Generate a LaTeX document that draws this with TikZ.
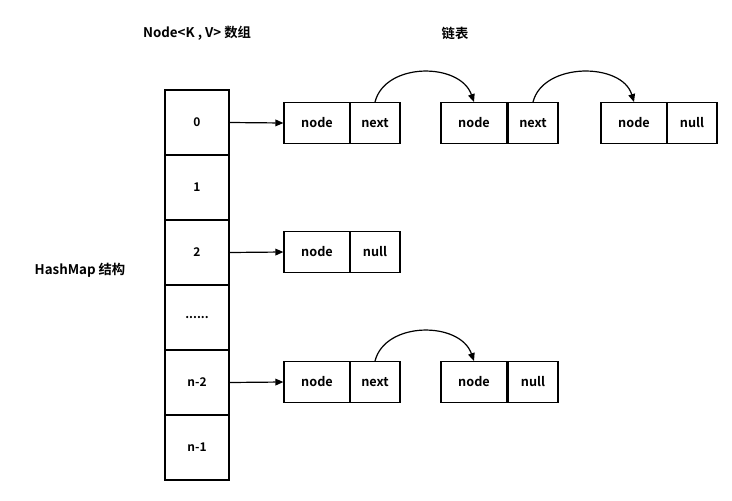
\documentclass[tikz,border=0pt]{standalone}
\usepackage{fontspec}
\setmainfont{Noto Sans CJK SC}[BoldFont={* Bold}]
\usetikzlibrary{arrows.meta}
\begin{document}
\begin{tikzpicture}[x=0.75pt,y=-0.75pt,
  cell/.style={draw,line width=0.9pt,minimum width=48pt,minimum height=48.75pt,inner sep=0pt,font=\bfseries\fontsize{9}{10}\selectfont},
  nd/.style={draw,line width=0.9pt,minimum width=49.5pt,minimum height=30.5pt,inner sep=0pt,font=\bfseries\fontsize{9.5}{10}\selectfont},
  nx/.style={draw,line width=0.9pt,minimum width=37.5pt,minimum height=30.5pt,inner sep=0pt,font=\bfseries\fontsize{9.5}{10}\selectfont},
  lab/.style={font=\bfseries\fontsize{10}{12}\selectfont},
  arr/.style={-{Triangle[length=6pt,width=5pt]},line width=0.9pt}]
\useasboundingbox (0,0) rectangle (732,500);
% array
\node[cell] (c0) at (197,122.5) {0};
\node[cell] (c1) at (197,187.5) {1};
\node[cell] (c2) at (197,252.5) {2};
\node[cell] (c3) at (197,317.5) {......};
\node[cell] (c4) at (197,382.5) {n-2};
\node[cell] (c5) at (197,447.5) {n-1};
% row 0
\node[nd] (a1) at (317,123) {node};
\node[nx] (a2) at (375,123) {next};
\node[nd] (b1) at (474,123) {node};
\node[nx] (b2) at (533,123) {next};
\node[nd] (c1n) at (634,123) {node};
\node[nx] (c2n) at (692,123) {null};
% row 2
\node[nd] (d1) at (317,252) {node};
\node[nx] (d2) at (375,252) {null};
% row n-2
\node[nd] (e1) at (317,382) {node};
\node[nx] (e2) at (375,382) {next};
\node[nd] (f1) at (474,382) {node};
\node[nx] (f2) at (533,382) {null};
\draw[arr] (c0.east) -- (a1.west);
\draw[arr] (c2.east) -- (d1.west);
\draw[arr] (c4.east) -- (e1.west);
\draw[arr] (a2.north) .. controls (385,62) and (460,62) .. (b1.north);
\draw[arr] (b2.north) .. controls (543,62) and (622,62) .. (c1n.north);
\draw[arr] (e2.north) .. controls (385,321) and (460,321) .. (f1.north);
\node[lab] (t1) at (197,33) {Node<K , V> 数组};
\node[lab] (t2) at (455,33) {链表};
\node[lab] (t3) at (80,270) {HashMap 结构};
\end{tikzpicture}
\end{document}
